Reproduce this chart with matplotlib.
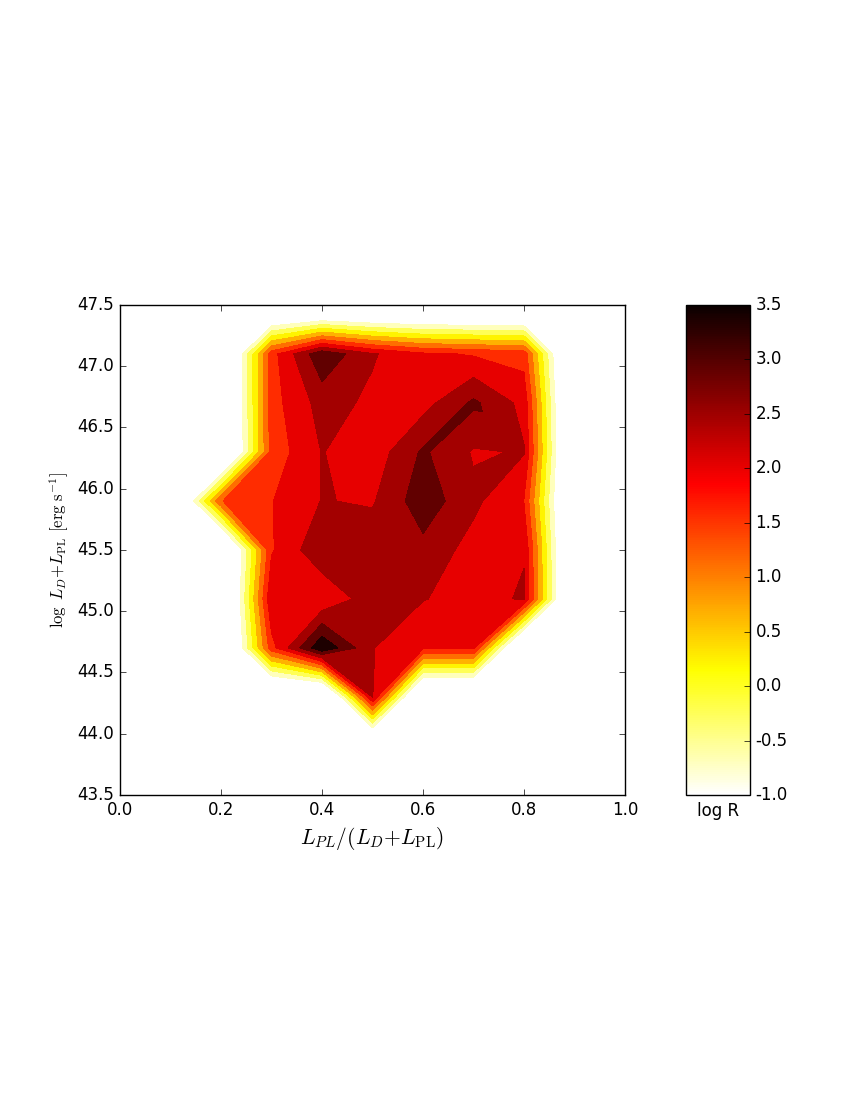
"""
log R map over luminosity fraction / total luminosity
filled contours, hot_r, old-style look
"""

import numpy as np
import matplotlib as mpl
import matplotlib.pyplot as plt
import matplotlib.tri as mtri

plt.style.use('classic')
mpl.rcParams['axes.unicode_minus'] = False
mpl.rcParams['mathtext.fontset'] = 'cm'

# grid nodes
frac_pl = [0.1, 0.2, 0.3, 0.4, 0.5, 0.6, 0.7, 0.8, 0.9]
log_lum = [43.9, 44.3, 44.7, 45.1, 45.5, 45.9, 46.3, 46.7, 47.1, 47.5]

# log R per row of log_lum (empty bins = -3.6)
row_439 = [-3.6, -3.6, -3.6, -3.6, -3.6, -3.6, -3.6, -3.6, -3.6]
row_443 = [-3.6, -3.6, -3.6, -3.6, 2.03, -3.6, -3.6, -3.6, -3.6]
row_447 = [-3.6, -3.6, 1.30, 3.45, 2.02, 1.60, 1.60, -3.6, -3.6]
row_451 = [-3.6, -3.6, 1.95, 1.55, 2.30, 2.02, 1.83, 2.05, -3.6]
row_455 = [-3.6, -3.6, 1.45, 2.40, 2.30, 2.35, 1.80, 1.97, -3.6]
row_459 = [-3.6, 0.98, 1.48, 2.02, 1.95, 2.80, 2.12, 1.48, -3.6]
row_463 = [-3.6, -3.6, 1.20, 2.02, 1.70, 2.58, 1.95, 2.03, -3.6]
row_467 = [-3.6, -3.6, 1.30, 2.20, 1.90, 1.80, 2.60, 1.84, -3.6]
row_471 = [-3.6, -3.6, 1.30, 2.90, 2.05, 1.60, 1.45, 1.30, -3.6]
row_475 = [-3.6, -3.6, -3.6, -3.6, -3.6, -3.6, -3.6, -3.6, -3.6]

levels = [-1.5, -1.0, -0.5, 0.0, 0.5, 1.0, 1.5, 2.0, 2.5, 3.0, 3.5]
cbar_ticks = [-1.0, -0.5, 0.0, 0.5, 1.0, 1.5, 2.0, 2.5, 3.0, 3.5]

log_r = np.array([row_439, row_443, row_447, row_451, row_455,
                  row_459, row_463, row_467, row_471, row_475])
xx, yy = np.meshgrid(frac_pl, log_lum)

fig = plt.figure(figsize=(8.5, 11), dpi=100)
fig.patch.set_facecolor('white')

ax = fig.add_axes([0.1412, 0.2773, 0.5941, 0.4455])
ax.contourf(xx, yy, log_r, levels=levels, cmap='hot_r', vmin=-1.6, vmax=3.4)

# saddle cells: redraw them as two triangles joining the high corners
ny, nx = log_r.shape
idx = np.arange(nx * ny).reshape(ny, nx)
tris = []
for j in range(ny - 1):
    for i in range(nx - 1):
        sw, se = log_r[j, i], log_r[j, i + 1]
        nw, ne = log_r[j + 1, i], log_r[j + 1, i + 1]
        a, b, c, d = idx[j, i], idx[j, i + 1], idx[j + 1, i], idx[j + 1, i + 1]
        for lev in levels:
            if min(sw, ne) >= lev > max(nw, se):
                tris += [[a, b, d], [a, d, c]]
                break
            if min(nw, se) >= lev > max(sw, ne):
                tris += [[a, b, c], [b, d, c]]
                break
if tris:
    tri = mtri.Triangulation(xx.ravel(), yy.ravel(), tris)
    ax.tricontourf(tri, log_r.ravel(), levels=levels, cmap='hot_r', vmin=-1.6, vmax=3.4)

ax.set_xlim(0.0, 1.0)
ax.set_ylim(43.5, 47.5)
ax.set_xlabel(r'$L_{PL}/(L_D{+}L_{\rm PL})$', fontsize=15.5)
ax.set_ylabel(r'$\log\ L_D{+}L_{\rm PL}\ [{\rm erg\ s^{-1}}]$', fontsize=12)

cax = fig.add_axes([0.807, 0.2773, 0.0753, 0.4455])
sm = mpl.cm.ScalarMappable(norm=mpl.colors.Normalize(vmin=-1.0, vmax=3.5), cmap='hot_r')
cb = fig.colorbar(sm, cax=cax)
cb.set_ticks(cbar_ticks)
cb.ax.set_xlabel('log R', fontsize=12)

fig.savefig('out.png', dpi=100, facecolor='white')
